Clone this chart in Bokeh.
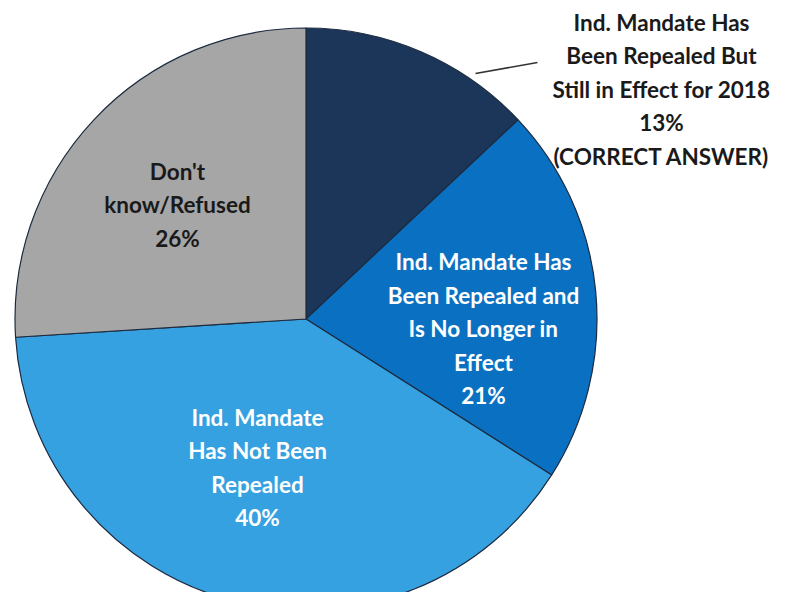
import math
from bokeh.plotting import figure
from bokeh.models import Range1d, ColumnDataSource
from bokeh.core.properties import value
from bokeh.embed import file_html
from bokeh.resources import INLINE

# ---- data ----
categories = [
    "Ind. Mandate Has Been Repealed But Still in Effect for 2018",
    "Ind. Mandate Has Been Repealed and Is No Longer in Effect",
    "Ind. Mandate Has Not Been Repealed",
    "Don't know/Refused",
]
shares = [13, 21, 40, 26]
label_lines = [
    ["Ind. Mandate Has", "Been Repealed But", "Still in Effect for 2018", "13%", "(CORRECT ANSWER)"],
    ["Ind. Mandate Has", "Been Repealed and", "Is No Longer in", "Effect", "21%"],
    ["Ind. Mandate", "Has Not Been", "Repealed", "40%"],
    ["Don't", "know/Refused", "26%"],
]

# ---- styles / layout ----
colors = ["#1b3659", "#0a71c2", "#36a1e0", "#a6a6a6"]
text_colors = ["#1a1a1a", "#ffffff", "#ffffff", "#1a1a1a"]
W, H = 773, 592
cx, cy, R = 305.5, -318.5, 291.0
# label block centres (page px coords, y downwards)
label_centers = [(661, 88.5), (483, 328), (257, 467), (177, 204)]
line_gap = 33.5
FONT = "Lato"

p = figure(width=W, height=H, output_backend="svg", toolbar_location=None,
           x_range=Range1d(0, W), y_range=Range1d(-H, 0),
           min_border=0)
p.axis.visible = False
p.grid.visible = False
p.outline_line_color = None
p.background_fill_color = "white"
p.border_fill_color = "white"

total = float(sum(shares))
starts, ends = [], []
acc = 0.0
for s in shares:
    a0 = math.pi / 2 - 2 * math.pi * acc / total
    acc += s
    a1 = math.pi / 2 - 2 * math.pi * acc / total
    starts.append(a1)
    ends.append(a0)

src = ColumnDataSource(dict(cat=categories, share=shares, start=starts, end=ends, color=colors))
p.wedge(x=cx, y=cy, radius=R, start_angle="start", end_angle="end",
        fill_color="color", line_color="#1c2b40", line_width=1.2, source=src)

# leader line for the outside label
p.line(x=[475, 537], y=[-73, -62], line_color="#333333", line_width=1.6)

xs, ys, txt, tc = [], [], [], []
for lines, (lx, ly), c in zip(label_lines, label_centers, text_colors):
    n = len(lines)
    for i, t in enumerate(lines):
        xs.append(lx)
        ys.append(-(ly + (i - (n - 1) / 2) * line_gap))
        txt.append(t)
        tc.append(c)

p.text(x=xs, y=ys, text=txt, text_color=tc, text_align="center",
       text_baseline="middle", text_font=value(FONT), text_font_size="22.5px",
       text_font_style="bold")

open("out.html", "w").write(file_html(p, INLINE))
